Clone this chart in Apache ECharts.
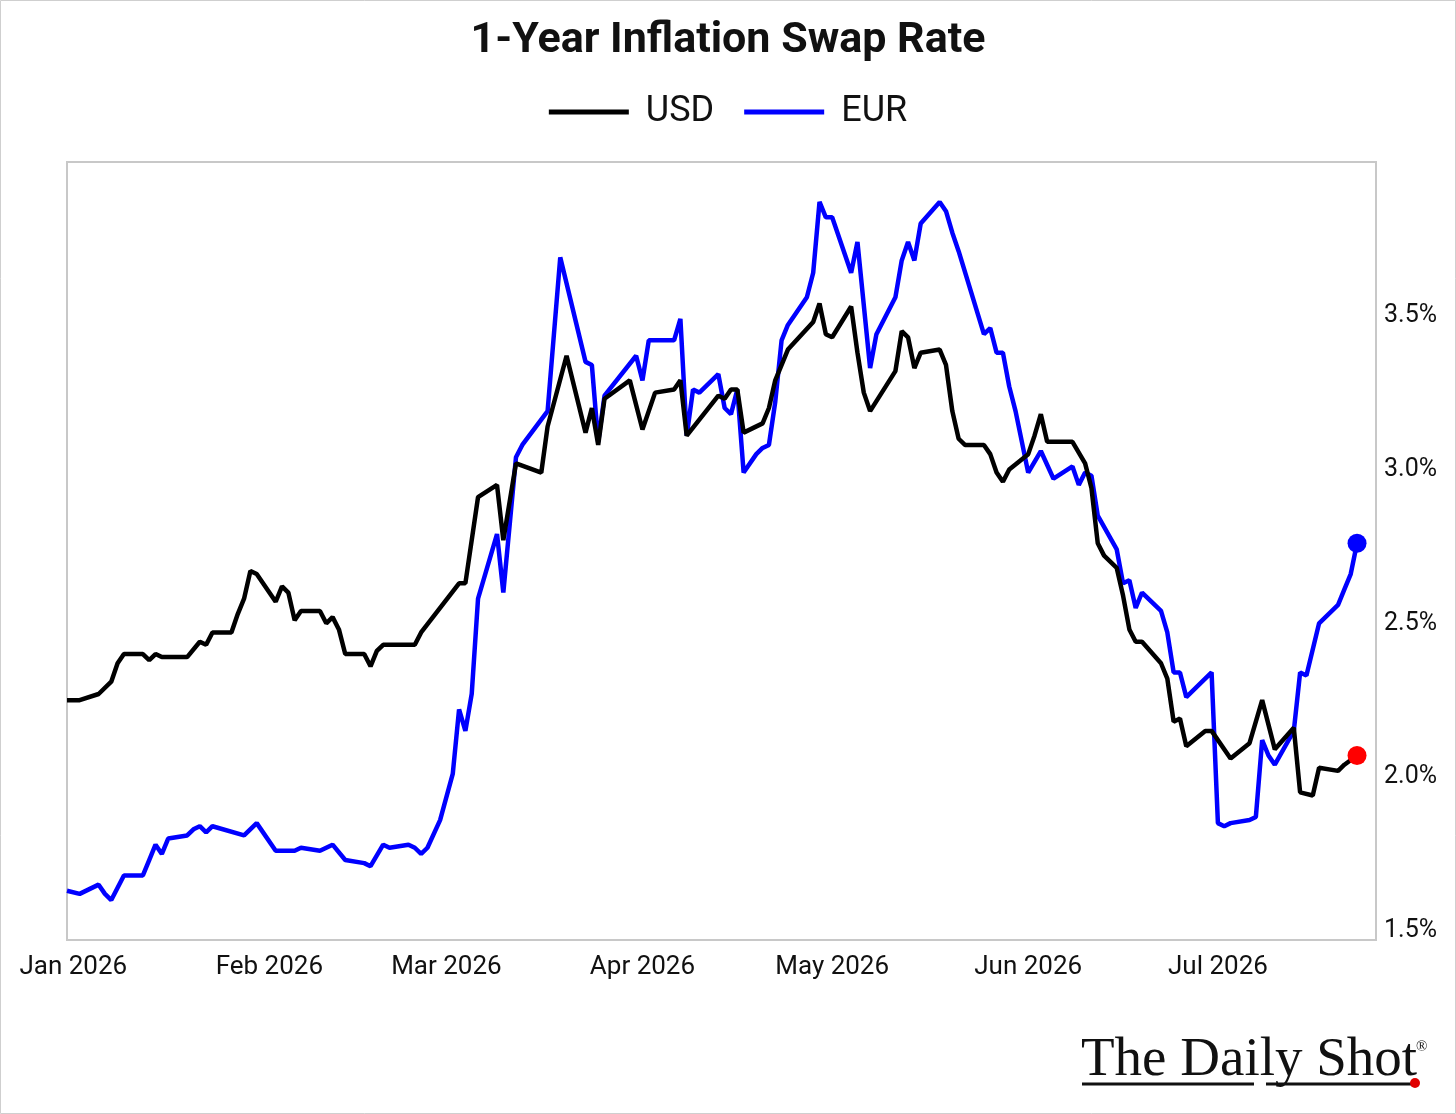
<!DOCTYPE html>
<html>
<head>
<meta charset="utf-8">
<title>1-Year Inflation Swap Rate</title>
<script src="https://cdn.jsdelivr.net/npm/echarts@6/dist/echarts.min.js"></script>
<style>
  html, body { margin: 0; padding: 0; background: #fff; }
  #chart { width: 1456px; height: 1114px; }
</style>
</head>
<body>
<div id="chart"></div>
<script>
// 美元 1年期通胀掉期
const usdDates = [
  '2025-12-31', '2026-01-02', '2026-01-05', '2026-01-07', '2026-01-08', '2026-01-09', '2026-01-12', '2026-01-13', '2026-01-14', '2026-01-15',
  '2026-01-19', '2026-01-21', '2026-01-22', '2026-01-23', '2026-01-26', '2026-01-27', '2026-01-28', '2026-01-29', '2026-01-30',
  '2026-02-02', '2026-02-03', '2026-02-04', '2026-02-05', '2026-02-06', '2026-02-09', '2026-02-10', '2026-02-11', '2026-02-12', '2026-02-13',
  '2026-02-16', '2026-02-17', '2026-02-18', '2026-02-19', '2026-02-24', '2026-02-25',
  '2026-03-03', '2026-03-04', '2026-03-06', '2026-03-09', '2026-03-10', '2026-03-12', '2026-03-16', '2026-03-17', '2026-03-20', '2026-03-23',
  '2026-03-24', '2026-03-25', '2026-03-26', '2026-03-30',
  '2026-04-01', '2026-04-03', '2026-04-06', '2026-04-07', '2026-04-08', '2026-04-13', '2026-04-14', '2026-04-15', '2026-04-16', '2026-04-17',
  '2026-04-20', '2026-04-21', '2026-04-22', '2026-04-24', '2026-04-28', '2026-04-29', '2026-04-30',
  '2026-05-01', '2026-05-04', '2026-05-05', '2026-05-06', '2026-05-07', '2026-05-11', '2026-05-12', '2026-05-13', '2026-05-14', '2026-05-15',
  '2026-05-18', '2026-05-19', '2026-05-20', '2026-05-21', '2026-05-22', '2026-05-25', '2026-05-26', '2026-05-27', '2026-05-28', '2026-05-29',
  '2026-06-01', '2026-06-02', '2026-06-03', '2026-06-04', '2026-06-08', '2026-06-10', '2026-06-11', '2026-06-12', '2026-06-13', '2026-06-15',
  '2026-06-16', '2026-06-17', '2026-06-18', '2026-06-19', '2026-06-22', '2026-06-23', '2026-06-24', '2026-06-25', '2026-06-26', '2026-06-29', '2026-06-30',
  '2026-07-03', '2026-07-06', '2026-07-08', '2026-07-10', '2026-07-13', '2026-07-14', '2026-07-16', '2026-07-17', '2026-07-20', '2026-07-21', '2026-07-23'
]
const usdRates = [
  2.25, 2.25, 2.27, 2.31, 2.37, 2.40, 2.40, 2.38, 2.40, 2.39,
  2.39, 2.44, 2.43, 2.47, 2.47, 2.53, 2.58, 2.67, 2.66,
  2.57, 2.62, 2.60, 2.51, 2.54, 2.54, 2.50, 2.52, 2.48, 2.40,
  2.40, 2.36, 2.41, 2.43, 2.43, 2.47,
  2.63, 2.63, 2.91, 2.95, 2.77, 3.02, 2.99, 3.14, 3.37, 3.12,
  3.20, 3.08, 3.23, 3.29,
  3.13, 3.25, 3.26, 3.29, 3.11, 3.24, 3.23, 3.26, 3.26, 3.12,
  3.15, 3.20, 3.29, 3.39, 3.48, 3.54, 3.44,
  3.43, 3.53, 3.38, 3.25, 3.19, 3.32, 3.45, 3.43, 3.33, 3.38,
  3.39, 3.34, 3.19, 3.10, 3.08, 3.08, 3.05, 2.99, 2.96, 3.00,
  3.05, 3.11, 3.18, 3.09, 3.09, 3.02, 2.94, 2.76, 2.72, 2.68,
  2.59, 2.48, 2.44, 2.44, 2.37, 2.32, 2.18, 2.19, 2.10, 2.15, 2.15,
  2.06, 2.11, 2.25, 2.09, 2.16, 1.95, 1.94, 2.03, 2.02, 2.04, 2.07
]

// 欧元 1年期通胀掉期
const eurDates = [
  '2025-12-31', '2026-01-02', '2026-01-05', '2026-01-06', '2026-01-07', '2026-01-08', '2026-01-09', '2026-01-12', '2026-01-13', '2026-01-14',
  '2026-01-15', '2026-01-16', '2026-01-19', '2026-01-20', '2026-01-21', '2026-01-22', '2026-01-23', '2026-01-28', '2026-01-30',
  '2026-02-02', '2026-02-05', '2026-02-06', '2026-02-09', '2026-02-11', '2026-02-13', '2026-02-16', '2026-02-17', '2026-02-19', '2026-02-20',
  '2026-02-23', '2026-02-24', '2026-02-25', '2026-02-26', '2026-02-28',
  '2026-03-02', '2026-03-03', '2026-03-04', '2026-03-05', '2026-03-06', '2026-03-09', '2026-03-10', '2026-03-12', '2026-03-13', '2026-03-17',
  '2026-03-19', '2026-03-23', '2026-03-24', '2026-03-25', '2026-03-26', '2026-03-31',
  '2026-04-01', '2026-04-02', '2026-04-06', '2026-04-07', '2026-04-08', '2026-04-09', '2026-04-10', '2026-04-13', '2026-04-14', '2026-04-15',
  '2026-04-16', '2026-04-17', '2026-04-19', '2026-04-20', '2026-04-21', '2026-04-22', '2026-04-23', '2026-04-24', '2026-04-27', '2026-04-28',
  '2026-04-29', '2026-04-30',
  '2026-05-01', '2026-05-04', '2026-05-05', '2026-05-07', '2026-05-08', '2026-05-11', '2026-05-12', '2026-05-13', '2026-05-14', '2026-05-15',
  '2026-05-18', '2026-05-19', '2026-05-20', '2026-05-21', '2026-05-25', '2026-05-26', '2026-05-27', '2026-05-28', '2026-05-29', '2026-05-30',
  '2026-06-01', '2026-06-03', '2026-06-05', '2026-06-08', '2026-06-09', '2026-06-10', '2026-06-11', '2026-06-12', '2026-06-15', '2026-06-16',
  '2026-06-17', '2026-06-18', '2026-06-19', '2026-06-22', '2026-06-23', '2026-06-24', '2026-06-25', '2026-06-26', '2026-06-30',
  '2026-07-01', '2026-07-02', '2026-07-03', '2026-07-06', '2026-07-07', '2026-07-08', '2026-07-09', '2026-07-10', '2026-07-13', '2026-07-14',
  '2026-07-15', '2026-07-17', '2026-07-20', '2026-07-21', '2026-07-22', '2026-07-23'
]
const eurRates = [
  1.63, 1.62, 1.65, 1.62, 1.60, 1.64, 1.68, 1.68, 1.73, 1.78,
  1.75, 1.80, 1.81, 1.83, 1.84, 1.82, 1.84, 1.81, 1.85,
  1.76, 1.76, 1.77, 1.76, 1.78, 1.73, 1.72, 1.71, 1.78, 1.77,
  1.78, 1.77, 1.75, 1.77, 1.86,
  2.01, 2.22, 2.15, 2.27, 2.58, 2.79, 2.60, 3.04, 3.08, 3.19,
  3.69, 3.35, 3.34, 3.09, 3.24, 3.37,
  3.29, 3.42, 3.42, 3.49, 3.11, 3.26, 3.25, 3.31, 3.20, 3.18,
  3.26, 2.99, 3.05, 3.07, 3.08, 3.22, 3.42, 3.47, 3.56, 3.64,
  3.87, 3.82,
  3.82, 3.64, 3.74, 3.33, 3.44, 3.56, 3.68, 3.74, 3.68, 3.80,
  3.87, 3.84, 3.77, 3.71, 3.44, 3.46, 3.38, 3.38, 3.27, 3.19,
  2.99, 3.06, 2.97, 3.01, 2.95, 2.99, 2.98, 2.85, 2.74, 2.63,
  2.64, 2.55, 2.60, 2.54, 2.47, 2.34, 2.34, 2.26, 2.34,
  1.85, 1.84, 1.85, 1.86, 1.87, 2.12, 2.07, 2.04, 2.15, 2.34,
  2.33, 2.50, 2.56, 2.61, 2.66, 2.76
]

// 坐标轴刻度
const yTicks = [1.5, 2.0, 2.5, 3.0, 3.5]
const monthNames = ['Jan', 'Feb', 'Mar', 'Apr', 'May', 'Jun', 'Jul', 'Aug', 'Sep', 'Oct', 'Nov', 'Dec']

const usdData = usdDates.map((d, i) => [d, usdRates[i]])
const eurData = eurDates.map((d, i) => [d, eurRates[i]])
const usdLast = usdData[usdData.length - 1]
const eurLast = eurData[eurData.length - 1]

const chart = echarts.init(document.getElementById('chart'))

const option = {
  backgroundColor: '#ffffff',
  animation: false,
  title: {
    text: '1-Year Inflation Swap Rate',
    left: 'center',
    top: 15,
    textStyle: {
      fontFamily: 'Roboto',
      fontSize: 43,
      fontWeight: 'bold',
      color: '#111'
    }
  },
  legend: {
    data: ['USD', 'EUR'],
    top: 89,
    left: 'center',
    icon: 'rect',
    itemWidth: 80,
    itemHeight: 5,
    itemGap: 30,
    textStyle: {
      fontFamily: 'Roboto',
      fontSize: 36,
      color: '#111',
      padding: [0, 0, 0, 12]
    }
  },
  grid: {
    show: true,
    left: 67,
    right: 80,
    top: 162,
    bottom: 174,
    borderColor: '#c8c8c8',
    borderWidth: 2,
    containLabel: false
  },
  xAxis: {
    type: 'time',
    min: '2025-12-31',
    max: '2026-07-26',
    splitNumber: 7,
    minInterval: 28 * 24 * 3600 * 1000,
    axisLine: { show: false },
    axisTick: { show: false },
    splitLine: { show: false },
    axisLabel: {
      margin: 14,
      fontFamily: 'Roboto',
      fontSize: 26,
      color: '#111',
      formatter: val => {
        const d = new Date(val)
        return monthNames[d.getMonth()] + ' ' + d.getFullYear()
      }
    }
  },
  yAxis: {
    type: 'value',
    position: 'right',
    min: 1.47,
    max: 4.0,
    axisLine: { show: false },
    axisTick: { show: false },
    splitLine: { show: false },
    axisLabel: {
      margin: 8,
      fontFamily: 'Roboto',
      fontSize: 25,
      color: '#111',
      customValues: yTicks,
      formatter: v => v.toFixed(1) + '%'
    }
  },
  series: [
    {
      name: 'USD',
      type: 'line',
      data: usdData,
      showSymbol: false,
      z: 3,
      lineStyle: { color: '#000000', width: 4.5 },
      itemStyle: { color: '#000000' }
    },
    {
      name: 'EUR',
      type: 'line',
      data: eurData,
      showSymbol: false,
      z: 2,
      lineStyle: { color: '#0000ff', width: 4.5 },
      itemStyle: { color: '#0000ff' }
    },
    // 末端圆点
    {
      name: 'last',
      type: 'scatter',
      symbolSize: 19,
      z: 4,
      data: [
        { value: usdLast, itemStyle: { color: '#ff0000', opacity: 1 } },
        { value: eurLast, itemStyle: { color: '#0000ff', opacity: 1 } }
      ]
    }
  ],
  graphic: [
    // 外框
    {
      type: 'rect',
      shape: { x: 0.5, y: 0.5, width: 1455, height: 1113 },
      style: { fill: 'none', stroke: '#cfcfcf', lineWidth: 1 },
      silent: true
    },
    // 标志
    {
      type: 'text',
      x: 1081,
      y: 1033,
      style: {
        text: 'The Daily Shot',
        font: '55px "Liberation Serif"',
        fill: '#111'
      }
    },
    {
      type: 'text',
      x: 1416,
      y: 1040,
      style: {
        text: '®',
        font: '15px "Liberation Serif"',
        fill: '#111'
      }
    },
    {
      type: 'line',
      shape: { x1: 1082, y1: 1084, x2: 1254, y2: 1084 },
      style: { stroke: '#111', lineWidth: 3 }
    },
    {
      type: 'line',
      shape: { x1: 1266, y1: 1084, x2: 1412, y2: 1084 },
      style: { stroke: '#111', lineWidth: 3 }
    },
    {
      type: 'circle',
      shape: { cx: 1415, cy: 1083, r: 5 },
      style: { fill: '#e00000' }
    }
  ]
}

chart.setOption(option)
</script>
</body>
</html>
